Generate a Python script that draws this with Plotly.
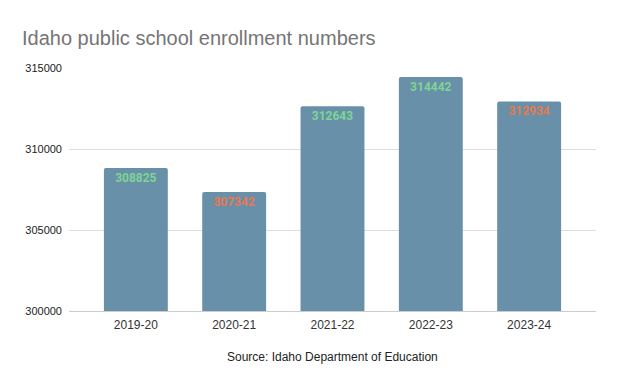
import plotly.graph_objects as go

years = ["2019-20", "2020-21", "2021-22", "2022-23", "2023-24"]
enrollment = [308825, 307342, 312643, 314442, 312934]
label_colors = ["#7ed493", "#e8784f", "#7ed493", "#7ed493", "#e8784f"]
y_ticks = [300000, 305000, 310000, 315000]

fig = go.Figure(go.Bar(
    x=years, y=enrollment,
    text=[str(v) for v in enrollment],
    textposition="inside", insidetextanchor="end", textangle=0,
    constraintext="none",
    insidetextfont=dict(family="Roboto, Arial, sans-serif", size=12, color=label_colors, weight="bold"),
    marker=dict(color="#6890a9", cornerradius=2, line=dict(width=0)),
    width=0.65,
))

fig.update_layout(
    width=620, height=378,
    margin=dict(l=69, r=24, t=68, b=67),
    paper_bgcolor="white", plot_bgcolor="white",
    showlegend=False,
    title=dict(text="Idaho public school enrollment numbers", x=22/620, xref="container", xanchor="left",
               y=1 - 38/378, yref="container", yanchor="middle",
               font=dict(family="Liberation Sans, Arial, sans-serif", size=20, color="#757575")),
    font=dict(family="Liberation Sans, Arial, sans-serif", size=11, color="#222222"),
    annotations=[dict(text="Source: Idaho Department of Education", xref="paper", yref="paper",
                      x=(332-69)/(596-69), y=-(357-311)/(311-68), xanchor="center", yanchor="middle",
                      showarrow=False, font=dict(size=12, color="#222222"))],
)

fig.update_xaxes(range=[-0.68, 4.68], showgrid=False, showline=True, linecolor="#cccccc",
                 ticks="", ticklabelstandoff=3, tickfont=dict(size=12, color="#333333"))
fig.update_yaxes(range=[300000, 315000], tickvals=y_ticks, ticktext=[str(t) for t in y_ticks],
                 showgrid=True, gridcolor="#dddddd", zeroline=False, ticks="",
                 ticklabelstandoff=6, tickfont=dict(size=11, color="#222222"))

fig.write_html("out.html", config={"displayModeBar": False},
               post_script="document.body.style.margin='0';document.body.style.padding='0';")
